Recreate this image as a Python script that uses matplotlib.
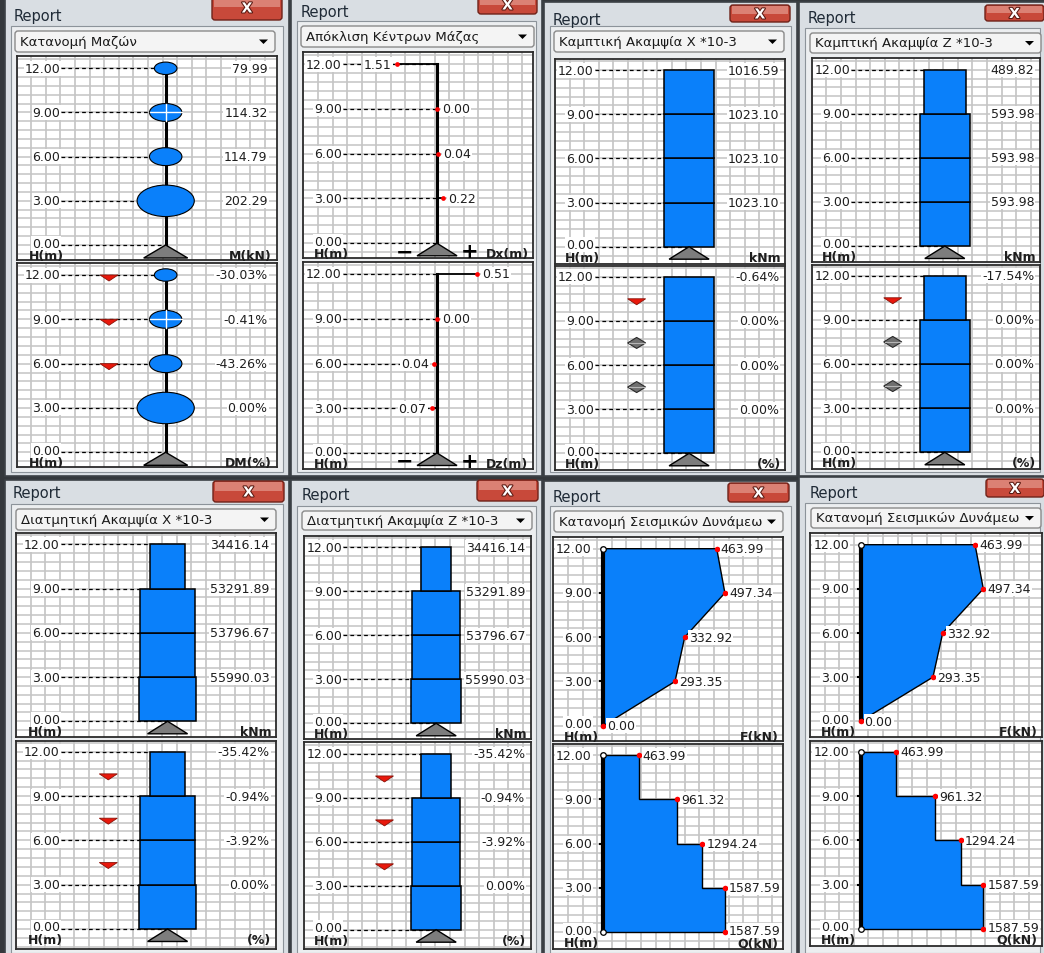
import matplotlib
matplotlib.use("Agg")
import numpy as np
import matplotlib.pyplot as plt
from matplotlib.patches import Rectangle, FancyBboxPatch, Ellipse, Polygon
import matplotlib.patheffects as pe

plt.rcParams["font.family"] = ["DejaVu Sans"]

W, H = 1044, 954
fig = plt.figure(figsize=(W / 100, H / 100), dpi=100)
fig.patch.set_facecolor("#34383c")

# ---------------------------------------------------------------- data
LEVELS = [3, 6, 9, 12]
TICK_LEVELS = [0, 3, 6, 9, 12]

mass_kn = [202.29, 114.79, 114.32, 79.99]
mass_diff_pct = [0.00, -43.26, -0.41, -30.03]

dx_m = [0.22, 0.04, 0.00, -1.51]
dz_m = [-0.07, -0.04, 0.00, 0.51]

bend_x = [1023.10, 1023.10, 1023.10, 1016.59]
bend_x_pct = [0.00, 0.00, 0.00, -0.64]
bend_z = [593.98, 593.98, 593.98, 489.82]
bend_z_pct = [0.00, 0.00, 0.00, -17.54]

shear_x = [55990.03, 53796.67, 53291.89, 34416.14]
shear_x_pct = [0.00, -3.92, -0.94, -35.42]
shear_z = [55990.03, 53796.67, 53291.89, 34416.14]
shear_z_pct = [0.00, -3.92, -0.94, -35.42]

force_f = [293.35, 332.92, 497.34, 463.99]
storey_q = [1587.59, 1294.24, 961.32, 463.99]
base_f = 0.00
base_q = 1587.59

combo_titles = [
    "Κατανομή Μαζών",
    "Απόκλιση Κέντρων Μάζας",
    "Καμπτική Ακαμψία X *10-3",
    "Καμπτική Ακαμψία Z *10-3",
    "Διατμητική Ακαμψία X *10-3",
    "Διατμητική Ακαμψία Z *10-3",
    "Κατανομή Σεισμικών Δυνάμεω",
    "Κατανομή Σεισμικών Δυνάμεω",
]

SELECTED_LEVEL = 9

# ---------------------------------------------------------------- style
BLUE = "#0a80fa"
GRID = "#c4c4c4"
INK = "#1e1e1e"
FS = 9
LABEL_BOX = dict(boxstyle="square,pad=0.08", fc="white", ec="none")

# ---------------------------------------------------------------- window chrome
bg = fig.add_axes([0, 0, 1, 1], zorder=-10)
bg.set_xlim(0, W)
bg.set_ylim(H, 0)
bg.axis("off")

windows = [
    ((5, 289, -3, 477), (14, 17), (212, 282, -4, 21), (15, 275, 32, 53)),
    ((291, 542, -3, 477), (301, 12), (478, 537, -4, 15), (301, 534, 27, 48)),
    ((544, 797, 3, 477), (553, 20), (730, 790, 6, 23), (554, 784, 32, 53)),
    ((799, 1046, 3, 477), (808, 19), (985, 1044, 6, 22), (810, 1041, 34, 54)),
    ((5, 289, 481, 958), (13, 494), (213, 284, 482, 503), (16, 276, 510, 531)),
    ((291, 542, 481, 958), (302, 496), (477, 538, 481, 502), (302, 532, 512, 531)),
    ((544, 797, 482, 958), (553, 498), (728, 789, 484, 503), (554, 783, 512, 533)),
    ((799, 1046, 478, 958), (810, 494), (986, 1044, 480, 498), (811, 1041, 509, 529)),
]


def draw_window(frame, report_xy, close_box, combo_box, title):
    x0, x1, y0, y1 = frame
    bg.add_patch(Rectangle((x0, y0), x1 - x0, y1 - y0, fc="#d9dee3", ec="#3c4146", lw=1.2))
    bx0, bx1, by0, by1 = combo_box
    bg.add_patch(Rectangle((x0 + 6, by0 - 5), x1 - x0 - 12, y1 - by0 + 1,
                           fc="#eceef0", ec="#8c939a", lw=0.8))
    bg.text(report_xy[0], report_xy[1], "Report", fontsize=10.5, color="#1f2a36",
            ha="left", va="center")
    cx0, cx1, cy0, cy1 = close_box
    bg.add_patch(FancyBboxPatch((cx0, cy0), cx1 - cx0, cy1 - cy0,
                                boxstyle="round,pad=0,rounding_size=3",
                                fc="#c8493a", ec="#6e2219", lw=1))
    bg.add_patch(Rectangle((cx0 + 2, cy0 + 1), cx1 - cx0 - 4, (cy1 - cy0) * 0.45,
                           fc="#e49a8e", ec="none", alpha=0.7))
    bg.text((cx0 + cx1) / 2, (cy0 + cy1) / 2 + 1, "X", fontsize=10, fontweight="bold",
            color="white", ha="center", va="center",
            path_effects=[pe.withStroke(linewidth=1.5, foreground="#5a1a12")])
    bg.add_patch(FancyBboxPatch((bx0, by0), bx1 - bx0, by1 - by0,
                                boxstyle="round,pad=0,rounding_size=3",
                                fc="#f4f4f4", ec="#8a8a8a", lw=1))
    my = (by0 + by1) / 2
    bg.text(bx0 + 5, my, title, fontsize=9.5, color="#1a1a1a", ha="left", va="center")
    bg.add_patch(Polygon([(bx1 - 16, my - 2), (bx1 - 7, my - 2), (bx1 - 11.5, my + 2.5)],
                         closed=True, fc="black", ec="none"))


for spec, title in zip(windows, combo_titles):
    draw_window(*spec, title)

# ---------------------------------------------------------------- plot helpers
# (left, right, top, bottom, y of 12.00, y of 0.00) in figure pixels
boxes = {
    "1t": (16.7, 276.7, 57.3, 260.5, 69.3, 246.0),
    "1b": (16.7, 276.7, 264.0, 468.0, 276.0, 453.3),
    "2t": (303.3, 532.7, 53.3, 259.3, 65.0, 244.3),
    "2b": (303.3, 532.7, 263.3, 470.0, 275.0, 454.0),
    "3t": (555.0, 785.0, 60.0, 264.5, 71.0, 247.7),
    "3b": (555.0, 785.0, 266.7, 470.7, 277.7, 454.3),
    "4t": (811.7, 1040.0, 59.3, 263.3, 70.7, 247.0),
    "4b": (811.7, 1040.0, 265.7, 470.0, 276.7, 453.3),
    "5t": (16.0, 276.0, 534.0, 738.3, 545.3, 722.3),
    "5b": (16.0, 276.0, 741.7, 950.0, 752.7, 930.0),
    "6t": (304.0, 530.7, 536.7, 740.0, 548.0, 724.3),
    "6b": (304.0, 530.7, 743.3, 950.0, 755.0, 930.7),
    "7t": (553.3, 782.7, 537.7, 741.7, 549.7, 726.7),
    "7b": (553.3, 782.7, 745.0, 950.0, 756.0, 933.3),
    "8t": (810.0, 1041.7, 534.3, 738.3, 545.7, 722.3),
    "8b": (810.0, 1041.7, 741.7, 946.7, 752.7, 930.0),
}


def make_axes(box, center_frac, span_frac, max_value):
    left, right, top, bottom, y12, y0 = box
    width = right - left
    ax = fig.add_axes([left / W, 1 - bottom / H, width / W, (bottom - top) / H])
    ppm = (y0 - y12) / 12.0
    ppu = span_frac * width / max_value
    xmin = -center_frac * width / ppu
    ax.set_xlim(xmin, (1 - center_frac) * width / ppu)
    ax.set_ylim(-(bottom - y0) / ppm, 12 + (y12 - top) / ppm)
    ax.set_facecolor("white")
    ax.set_xticks([])
    ax.set_yticks([])
    for s in ax.spines.values():
        s.set_color("#2b2b2b")
        s.set_linewidth(1.3)
    step = 14.6 / ppu
    for k in range(int(width / 14.6) + 1):
        ax.axvline(xmin + k * step, color=GRID, lw=1.2, zorder=0)
    for yv in np.arange(-1.8, 13.3, 0.6):
        ax.axhline(yv, color=GRID, lw=1.1, zorder=0)
    return ax, ppu, ppm


def level_labels(ax, ppm, dashed=True):
    xmin, xmax = ax.get_xlim()
    ytr = ax.get_yaxis_transform()
    for lev in TICK_LEVELS:
        y = lev + (2 / ppm if lev == 0 else 0)
        ax.text(0.168, y, f"{lev:.2f}", transform=ytr, ha="right", va="center",
                fontsize=FS, color=INK, bbox=LABEL_BOX, zorder=7)
        if dashed:
            ax.plot([xmin + 0.172 * (xmax - xmin), 0], [lev, lev], color="black",
                    lw=0.9, ls=(0, (3, 2.5)), zorder=2)


def footer(ax, ppm, unit):
    ytr = ax.get_yaxis_transform()
    y = -10.5 / ppm
    ax.text(0.045, y, "H(m)", transform=ytr, ha="left", va="center", fontsize=FS,
            fontweight="bold", color=INK, zorder=8)
    ax.text(0.982, y, unit, transform=ytr, ha="right", va="center", fontsize=FS,
            fontweight="bold", color=INK, zorder=8)


def right_values(ax, texts, xfrac=0.975):
    ytr = ax.get_yaxis_transform()
    for lev, t in zip(LEVELS, texts):
        ax.text(xfrac, lev, t, transform=ytr, ha="right", va="center", fontsize=FS,
                color=INK, bbox=LABEL_BOX, zorder=7)


def support(ax, ppu, ppm, half=21, height=13):
    ax.add_patch(Polygon([(0, 0), (-half / ppu, -height / ppm), (half / ppu, -height / ppm)],
                         closed=True, fc="#7d7d7d", ec="black", lw=1.0, zorder=6))


def change_markers(ax, ppu, ppm, pcts, offset):
    xmin, xmax = ax.get_xlim()
    xm = xmin + 0.355 * (xmax - xmin)
    for lev, p in zip(LEVELS[1:], pcts[1:]):
        y = lev + offset
        if p < 0:
            tri = [(xm - 9 / ppu, y), (xm + 9 / ppu, y), (xm, y - 6 / ppm)]
            ax.add_patch(Polygon(tri, closed=True, fc="#e8180c", ec="#8a1208", lw=0.6, zorder=5))
        else:
            dia = [(xm - 9 / ppu, y), (xm, y + 5.5 / ppm), (xm + 9 / ppu, y), (xm, y - 5.5 / ppm)]
            ax.add_patch(Polygon(dia, closed=True, fc="#6f6f6f", ec="#2a2a2a", lw=0.8, zorder=5))
            ax.plot([xm - 8 / ppu, xm + 8 / ppu], [y, y], color="#b5b5b5", lw=0.8, zorder=6)


# ---------------------------------------------------------------- panels
def mass_panel(box, texts, unit, pcts=None):
    ax, ppu, ppm = make_axes(box, 0.573, 0.22, max(mass_kn))
    level_labels(ax, ppm)
    ax.plot([0, 0], [0, 12], color="black", lw=2.2, zorder=3)
    for lev, m in zip(LEVELS, mass_kn):
        h = m * ppu * 0.55 / ppm
        ax.add_patch(Ellipse((0, lev), m, h, fc=BLUE, ec="black", lw=0.8, zorder=4))
        if lev == SELECTED_LEVEL:
            ax.plot([-m / 2, m / 2], [lev, lev], color="white", lw=1.0, zorder=5)
            ax.plot([0, 0], [lev - h / 2, lev + h / 2], color="white", lw=1.0, zorder=5)
    if pcts is not None:
        change_markers(ax, ppu, ppm, pcts, 0.0)
    right_values(ax, texts, 0.965)
    support(ax, ppu, ppm, 22, 13)
    footer(ax, ppm, unit)


def drift_panel(box, values, unit):
    ax, ppu, ppm = make_axes(box, 0.583, 0.175, max(abs(v) for v in values))
    level_labels(ax, ppm)
    ax.plot([0, 0], [0, 12], color="black", lw=2.2, zorder=3)
    for lev, v in zip(LEVELS, values):
        ax.plot([0, v], [lev, lev], color="black", lw=1.3, zorder=3)
        ax.plot([v], [lev], "o", color="red", ms=3.4, mec="none", zorder=5)
        if v < 0:
            ax.text(v - 5 / ppu, lev, f"{abs(v):.2f}", ha="right", va="center",
                    fontsize=FS, color=INK, bbox=LABEL_BOX, zorder=7)
        else:
            ax.text(v + 5 / ppu, lev, f"{v:.2f}", ha="left", va="center",
                    fontsize=FS, color=INK, bbox=LABEL_BOX, zorder=7)
    support(ax, ppu, ppm, 20, 12.5)
    ax.text(-32 / ppu, -8 / ppm, "−", ha="center", va="center", fontsize=15,
            fontweight="bold", color="black", zorder=8)
    ax.text(33 / ppu, -8 / ppm, "+", ha="center", va="center", fontsize=15,
            fontweight="bold", color="black", zorder=8)
    footer(ax, ppm, unit)


def stiffness_panel(box, values, texts, unit, pcts=None):
    ax, ppu, ppm = make_axes(box, 0.583, 0.22, max(values))
    level_labels(ax, ppm)
    for lev, v in zip(LEVELS, values):
        ax.add_patch(Rectangle((-v / 2, lev - 3), v, 3, fc=BLUE, ec="black", lw=1.1, zorder=4))
    if pcts is not None:
        change_markers(ax, ppu, ppm, pcts, -1.5)
    right_values(ax, texts, 0.975)
    support(ax, ppu, ppm, 20, 12.5)
    footer(ax, ppm, unit)


def value_dot(ax, ppu, ppm, x, y, text, lift=0.0):
    ax.plot([x], [y], "o", color="red", ms=4, mec="none", zorder=6)
    ax.text(x + 4 / ppu, y + lift / ppm, text, ha="left", va="center", fontsize=FS,
            color=INK, bbox=LABEL_BOX, zorder=7)


def ring_dot(ax, x, y):
    ax.plot([x], [y], "o", color="white", ms=4, mec="black", mew=0.9, zorder=6)


def force_panel(box):
    ax, ppu, ppm = make_axes(box, 0.218, 0.53, max(force_f))
    level_labels(ax, ppm, dashed=False)
    pts = [(base_f, 0)] + list(zip(force_f, LEVELS)) + [(0, 12)]
    ax.add_patch(Polygon(pts, closed=True, fc=BLUE, ec="black", lw=1.0, zorder=3))
    ax.plot([0, 0], [0, 12], color="black", lw=3, zorder=4)
    for lev in LEVELS[:-1]:
        ax.plot([-3 / ppu, 0], [lev, lev], color="black", lw=1.5, zorder=4)
    ring_dot(ax, 0, 12)
    value_dot(ax, ppu, ppm, base_f, 0, f"{base_f:.2f}")
    for lev, f in zip(LEVELS, force_f):
        value_dot(ax, ppu, ppm, f, lev, f"{f:.2f}")
    footer(ax, ppm, "F(kN)")


def shear_panel(box):
    ax, ppu, ppm = make_axes(box, 0.218, 0.53, max(storey_q + [base_q]))
    level_labels(ax, ppm, dashed=False)
    # stepped outline of the storey shear, from the base up to the roof
    pts = [(0, 0), (base_q, 0)]
    lower = [0] + LEVELS[:-1]
    for lo, lev, q in zip(lower, LEVELS, storey_q):
        pts += [(q, lo), (q, lev)]
    pts.append((0, 12))
    ax.add_patch(Polygon(pts, closed=True, fc=BLUE, ec="black", lw=1.0, zorder=3))
    ax.plot([0, 0], [0, 12], color="black", lw=3, zorder=4)
    for lev in LEVELS[:-1]:
        ax.plot([-3 / ppu, 0], [lev, lev], color="black", lw=1.5, zorder=4)
    ring_dot(ax, 0, 12)
    ring_dot(ax, 0, 0)
    for lev, q in zip(LEVELS, storey_q):
        value_dot(ax, ppu, ppm, q, lev, f"{q:.2f}")
    value_dot(ax, ppu, ppm, base_q, 0, f"{base_q:.2f}", lift=1.5)
    footer(ax, ppm, "Q(kN)")


def pct_texts(pcts):
    return [f"{p:.2f}%" for p in pcts]


mass_panel(boxes["1t"], [f"{m:.2f}" for m in mass_kn], "M(kN)")
mass_panel(boxes["1b"], pct_texts(mass_diff_pct), "DM(%)", mass_diff_pct)

drift_panel(boxes["2t"], dx_m, "Dx(m)")
drift_panel(boxes["2b"], dz_m, "Dz(m)")

stiffness_panel(boxes["3t"], bend_x, [f"{v:.2f}" for v in bend_x], "kNm")
stiffness_panel(boxes["3b"], bend_x, pct_texts(bend_x_pct), "(%)", bend_x_pct)
stiffness_panel(boxes["4t"], bend_z, [f"{v:.2f}" for v in bend_z], "kNm")
stiffness_panel(boxes["4b"], bend_z, pct_texts(bend_z_pct), "(%)", bend_z_pct)

stiffness_panel(boxes["5t"], shear_x, [f"{v:.2f}" for v in shear_x], "kNm")
stiffness_panel(boxes["5b"], shear_x, pct_texts(shear_x_pct), "(%)", shear_x_pct)
stiffness_panel(boxes["6t"], shear_z, [f"{v:.2f}" for v in shear_z], "kNm")
stiffness_panel(boxes["6b"], shear_z, pct_texts(shear_z_pct), "(%)", shear_z_pct)

force_panel(boxes["7t"])
shear_panel(boxes["7b"])
force_panel(boxes["8t"])
shear_panel(boxes["8b"])

fig.savefig("out.png", dpi=100, facecolor=fig.get_facecolor())
